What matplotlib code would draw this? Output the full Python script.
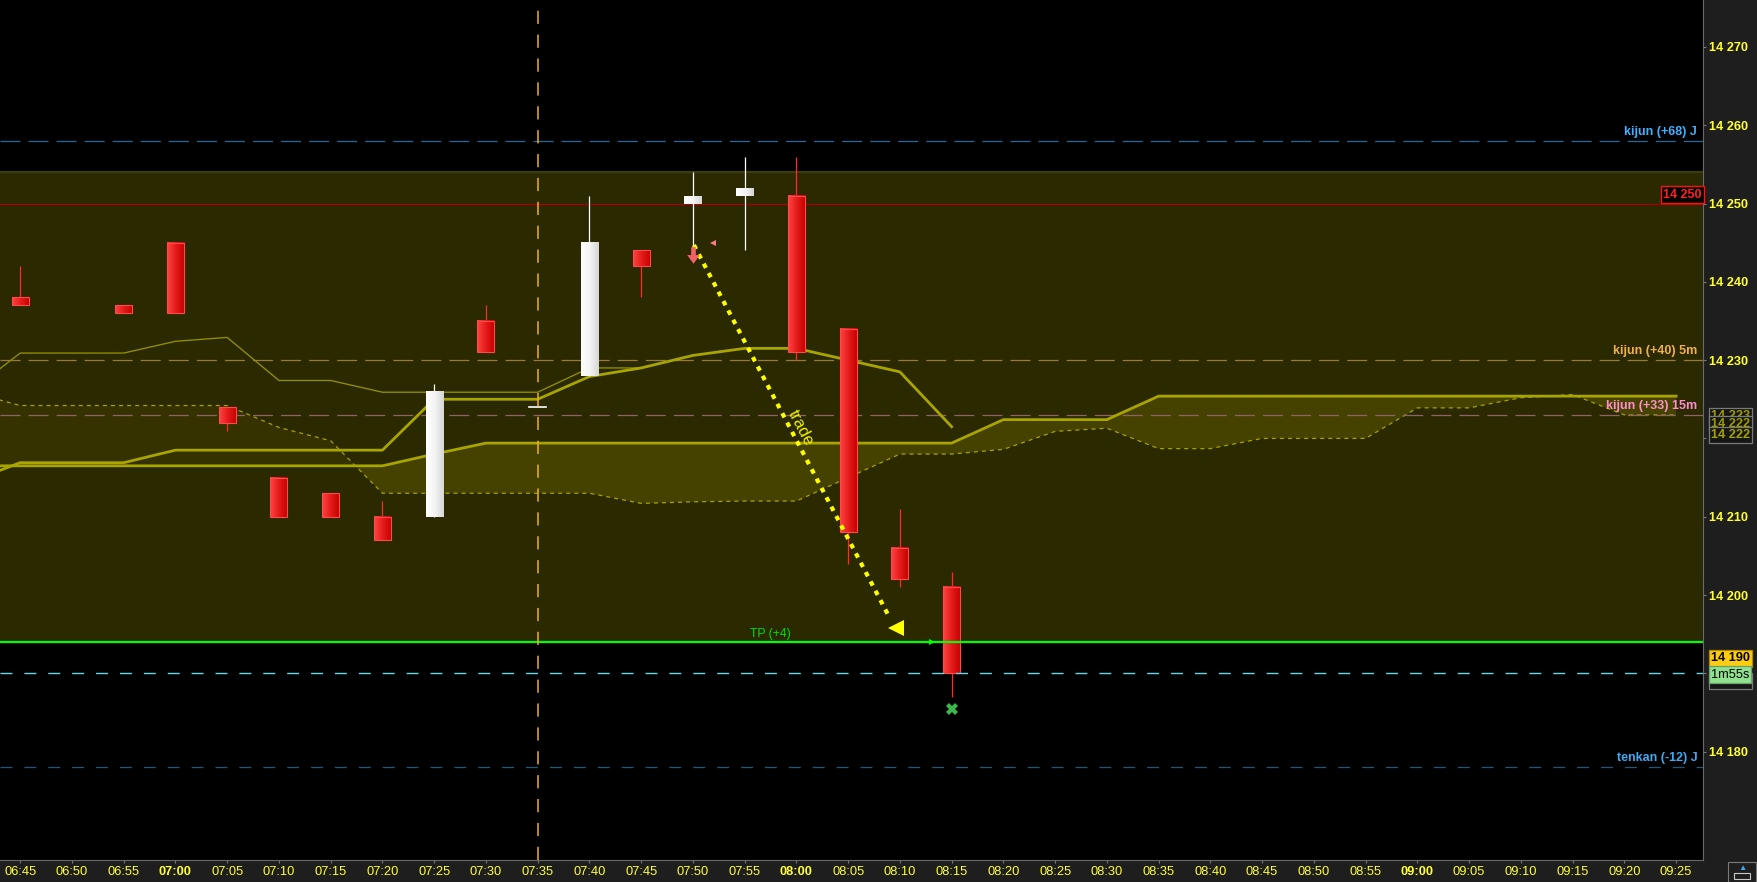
import matplotlib
matplotlib.use("Agg")
import matplotlib.pyplot as plt
import numpy as np
from matplotlib.colors import LinearSegmentedColormap
from matplotlib.patches import Rectangle
from matplotlib.transforms import blended_transform_factory
from matplotlib.path import Path

plt.rcParams['font.family'] = ['Liberation Sans', 'DejaVu Sans']
plt.rcParams['lines.scale_dashes'] = False


def tmin(s):
    h, m = s.split(':')
    return int(h) * 60 + int(m) - (6 * 60 + 45)


# ---------------- data ----------------
candle_times = ["06:45", "06:55", "07:00", "07:05", "07:10", "07:15", "07:20", "07:25",
                "07:30", "07:35", "07:40", "07:45", "07:50", "07:55", "08:00", "08:05",
                "08:10", "08:15"]
opens = [14238, 14237, 14245, 14224, 14215, 14213, 14210, 14210, 14235, 14224, 14228,
         14244, 14250, 14251, 14251, 14234, 14206, 14201]
highs = [14242, 14237, 14245, 14224, 14215, 14213, 14212, 14227, 14237, 14224, 14251,
         14244, 14254, 14256, 14256, 14234, 14211, 14203]
lows = [14237, 14236, 14236, 14221, 14210, 14210, 14207, 14210, 14231, 14224, 14228,
        14238, 14244.5, 14244, 14230, 14204, 14201, 14187]
closes = [14237, 14236, 14236, 14222, 14210, 14210, 14207, 14226, 14231, 14224, 14245,
          14242, 14251, 14252, 14231, 14208, 14202, 14190]

a_times = ["06:40", "06:45", "06:50", "06:55", "07:00", "07:05", "07:10", "07:15", "07:20",
           "07:25", "07:30", "07:35", "07:40", "07:45", "07:50", "07:55", "08:00", "08:05",
           "08:10", "08:15"]
a_vals = [14214.4, 14216.9, 14216.9, 14216.9, 14218.5, 14218.5, 14218.5, 14218.5, 14218.5,
          14225.0, 14225.0, 14225.0, 14227.9, 14229.0, 14230.6, 14231.5, 14231.5, 14230.0,
          14228.5, 14221.5]

c_times = ["06:40", "06:45", "06:50", "06:55", "07:00", "07:05", "07:10", "07:15", "07:20",
           "07:25", "07:30", "07:35", "07:40", "07:45"]
c_vals = [14225.8, 14230.9, 14230.9, 14230.9, 14232.4, 14232.9, 14227.4, 14227.4, 14225.9,
          14225.9, 14225.9, 14225.9, 14229.0, 14229.0]

cloud_times = ["06:40", "06:45", "06:50", "06:55", "07:00", "07:05", "07:10", "07:15",
               "07:20", "07:25", "07:30", "07:35", "07:40", "07:45", "07:50", "07:55",
               "08:00", "08:05", "08:10", "08:15", "08:20", "08:25", "08:30", "08:35",
               "08:40", "08:45", "08:50", "08:55", "09:00", "09:05", "09:10", "09:15",
               "09:20", "09:25"]
b_vals = [14216.5, 14216.5, 14216.5, 14216.5, 14216.5, 14216.5, 14216.5, 14216.5, 14216.5,
          14218.0, 14219.4, 14219.4, 14219.4, 14219.4, 14219.4, 14219.4, 14219.4, 14219.4,
          14219.4, 14219.4, 14222.4, 14222.4, 14222.4, 14225.4, 14225.4, 14225.4, 14225.4,
          14225.4, 14225.4, 14225.4, 14225.4, 14225.4, 14225.4, 14225.4]
d_vals = [14226.0, 14224.2, 14224.2, 14224.2, 14224.2, 14224.2, 14221.4, 14219.7, 14213.0,
          14213.0, 14213.0, 14213.0, 14213.0, 14211.7, 14211.9, 14212.0, 14212.0, 14215.0,
          14218.0, 14218.0, 14218.6, 14220.9, 14221.3, 14218.7, 14218.7, 14220.0, 14220.0,
          14220.0, 14223.9, 14223.9, 14225.2, 14225.6, 14223.0, 14223.0]

level_names = ["kijun (+68) J", "kijun (+40) 5m", "kijun (+33) 15m", "tenkan (-12) J"]
level_values = [14258, 14230, 14223, 14178]
level_line_colors = ["#1f6a9c", "#9a7a3a", "#8e6268", "#1e5878"]
level_text_colors = ["#3fb0ff", "#f0b050", "#ff8ccc", "#3fa8f0"]
level_dashes = [(14.4, 5.8), (14.4, 5.8), (14.4, 5.8), (8.6, 8.6)]

red_level = 14250
zone_top = 14254.06
tp_level = 14194
tp_label = "TP (+4)"
tp_label_time = 72.45
current_price = 14190
entry_time = "07:35"

trade_x = [65.1, 84.05]
trade_y = [14244.7, 14197.0]
trade_head = (84.6, 14195.8)
trade_text_pos = (75.4, 14221.4)

xtick_labels = ["06:45", "06:50", "06:55", "07:00", "07:05", "07:10", "07:15", "07:20",
                "07:25", "07:30", "07:35", "07:40", "07:45", "07:50", "07:55", "08:00",
                "08:05", "08:10", "08:15", "08:20", "08:25", "08:30", "08:35", "08:40",
                "08:45", "08:50", "08:55", "09:00", "09:05", "09:10", "09:15", "09:20",
                "09:25"]
ytick_vals = [14180, 14190, 14200, 14210, 14220, 14230, 14240, 14250, 14260, 14270]
ytick_labels = ["14 180", "", "14 200", "14 210", "", "14 230", "14 240", "14 250",
                "14 260", "14 270"]

# ---------------- figure ----------------
W, H = 1757, 882
fig = plt.figure(figsize=(W / 100, H / 100), dpi=100)
fig.patch.set_facecolor('#1e1e1e')
ax = fig.add_axes([0, 22 / H, 1703 / W, 860 / H])
ax.set_facecolor('black')
XL = (-1.95, 162.6)
YL = (14166.16, 14275.99)

# trade zone
ax.axhspan(tp_level, zone_top, color='#2a2900', zorder=0.5, lw=0)
ax.axhline(zone_top, color='#3d3c0e', lw=1.6, zorder=0.6)

# cloud
cx = np.array([tmin(t) for t in cloud_times], dtype=float)
bv = np.array(b_vals)
dv = np.array(d_vals)
ax.fill_between(cx, bv, dv, where=bv >= dv, interpolate=True, color='#454200', lw=0, zorder=1)
ax.fill_between(cx, bv, dv, where=bv < dv, interpolate=True, color='#353200', lw=0, zorder=1)
ax.plot(cx, dv, color='#a6a200', lw=0.9, dashes=(2.9, 2.9), zorder=2)
ax.plot(cx, bv, color='#a8a400', lw=2.0, zorder=3)
ax.plot([tmin(t) for t in c_times], c_vals, color='#929000', lw=0.95, zorder=3)
ax.plot([tmin(t) for t in a_times], a_vals, color='#a8a400', lw=2.0, zorder=3)

# horizontal levels
ax.axhline(red_level, color='#b00000', lw=0.9, zorder=2)
for v, lc, ds in zip(level_values, level_line_colors, level_dashes):
    ax.axhline(v, color=lc, lw=0.9, dashes=ds, zorder=2)
ax.axhline(tp_level, color='#00ff00', lw=1.6, zorder=6)
ax.axhline(current_price, color='#5fd8e8', lw=1.0, dashes=(8.6, 8.6), zorder=6)
ax.axvline(tmin(entry_time), color='#f0b020', lw=1.1, dashes=(9.5, 7.7), zorder=6)

lab_tr = blended_transform_factory(ax.transAxes, ax.transData)
for name, v, tc in zip(level_names, level_values, level_text_colors):
    ax.annotate(name, xy=(0.9966, v), xycoords=lab_tr, xytext=(0, 2.2),
                textcoords='offset points', ha='right', va='bottom', color=tc,
                fontsize=9, fontweight='bold', zorder=8)
ax.annotate(tp_label, xy=(tp_label_time, tp_level), xytext=(0, 1.5),
            textcoords='offset points', ha='center', va='bottom', color='#00e000',
            fontsize=8.8, zorder=8)
ax.text(0.9992, red_level + 1.1, "14 250", transform=lab_tr, ha='right', va='center',
        color='#ff2020', fontsize=9, fontweight='bold', zorder=9,
        bbox=dict(boxstyle='square,pad=0.2', fc='black', ec='#ff1010', lw=1))

# candles
bw = 1.65
red_cmap = LinearSegmentedColormap.from_list('r', ['#ff4444', '#e41a1a', '#c40000'])
wht_cmap = LinearSegmentedColormap.from_list('w', ['#ffffff', '#f4f4f4', '#d6d6d6'])
grad = np.linspace(0, 1, 64).reshape(1, -1)
for t, o, h, l, c in zip(candle_times, opens, highs, lows, closes):
    x = tmin(t)
    up = c >= o
    col = '#ffffff' if up else '#ff2a2a'
    if h > max(o, c) or l < min(o, c):
        ax.plot([x, x], [l, h], color=col, lw=0.9, zorder=4, solid_capstyle='butt')
    if o == c:
        ax.plot([x - bw / 2, x + bw / 2], [o, c], color='#ffffff', lw=1.2, zorder=5)
        continue
    lo_, hi_ = min(o, c), max(o, c)
    ax.imshow(grad, extent=[x - bw / 2, x + bw / 2, lo_, hi_], aspect='auto',
              cmap=wht_cmap if up else red_cmap, interpolation='bilinear', zorder=5)
    if not up:
        ax.add_patch(Rectangle((x - bw / 2, lo_), bw, hi_ - lo_, fill=False,
                               ec='#ff4a4a', lw=0.8, zorder=5.5))

ax.set_xlim(*XL)
ax.set_ylim(*YL)

# trade arrow
ax.plot(trade_x, trade_y, color='#ffff00', lw=3.0, dashes=(3.4, 4.2), zorder=7,
        solid_capstyle='butt', dash_capstyle='butt')
ax.plot([trade_head[0]], [trade_head[1]], marker='<', color='#ffff00', markersize=12,
        markeredgewidth=0, zorder=7)
fig.canvas.draw()
p0 = ax.transData.transform((trade_x[0], trade_y[0]))
p1 = ax.transData.transform((trade_x[1], trade_y[1]))
ang = np.degrees(np.arctan2(p1[1] - p0[1], p1[0] - p0[0]))
ax.text(trade_text_pos[0], trade_text_pos[1], "trade", rotation=ang, rotation_mode='anchor',
        ha='center', va='center', color='#f0f000', fontsize=12, zorder=7)

# markers
arrow_path = Path([(-0.28, 1.0), (0.28, 1.0), (0.28, 0.05), (0.75, 0.05), (0.0, -1.0),
                   (-0.75, 0.05), (-0.28, 0.05), (-0.28, 1.0)], closed=True)
ax.plot([65.0], [14243.4], marker=arrow_path, color='#f2606a', markersize=12,
        markeredgewidth=0, zorder=8)
ax.plot([66.97], [14244.9], marker='<', color='#ff7a86', markersize=5,
        markeredgewidth=0, zorder=8)
ax.plot([88.1], [tp_level], marker='>', color='#00ff00', markersize=5,
        markeredgewidth=0, zorder=8)
ax.plot([90.0], [14185.4], marker='X', color='#3cb84a', markersize=9,
        markeredgewidth=0, zorder=8)

# axes styling
for s in ['top', 'left']:
    ax.spines[s].set_visible(False)
ax.spines['right'].set_color('#6a6a6a')
ax.spines['bottom'].set_color('#6a6a6a')
ax.yaxis.tick_right()
ax.set_yticks(ytick_vals)
ax.set_yticklabels(ytick_labels)
ax.tick_params(axis='y', colors='#7a7a7a', length=2.4, width=0.8, pad=2.2,
               labelcolor='#ffff33', labelsize=9.2)
for lbl in ax.get_yticklabels():
    lbl.set_fontweight('bold')
ax.set_xticks([tmin(t) for t in xtick_labels])
ax.set_xticklabels(xtick_labels)
ax.tick_params(axis='x', colors='#7a7a7a', length=2.4, width=0.8, pad=2.0,
               labelcolor='#ffff33', labelsize=9.3)
for lbl in ax.get_xticklabels():
    if lbl.get_text().endswith(':00'):
        lbl.set_fontweight('bold')


# right-axis price boxes
def pbox(y, s, fc, tc, ec, z, weight='bold'):
    ax.text(1.0046, y, s, transform=lab_tr, ha='left', va='center', color=tc,
            fontsize=9.2, fontweight=weight, zorder=z, clip_on=False,
            bbox=dict(boxstyle='square,pad=0.17', fc=fc, ec=ec, lw=0.9))


pbox(14222.8, "14 223", '#161616', '#9c9c00', '#7a7a7a', 20)
pbox(14221.8, "14 222", '#161616', '#9c9c00', '#7a7a7a', 21)
pbox(14220.4, "14 222", '#161616', '#a4a400', '#7a7a7a', 22)
pbox(14191.9, "14 190", '#ffcc10', '#000000', '#b08a00', 23)
pbox(14189.0, "14 190", '#161616', '#9c9c00', '#7a7a7a', 24)
pbox(14189.85, "1m55s", '#8fe08f', '#000000', '#6aa06a', 25, weight='normal')

# bottom-right icon
fig.patches.append(Rectangle((1728 / W, 0.5 / H), 28 / W, 20 / H, transform=fig.transFigure,
                             fill=False, ec='#7a7a7a', lw=0.8))
fig.patches.append(Rectangle((1734 / W, 3 / H), 16 / W, 6 / H, transform=fig.transFigure,
                             fill=False, ec='#c8c8c8', lw=0.8))
fig.text(1742 / W, 14 / H, '\u25b2', color='#3aa8f0', fontsize=6, ha='center', va='center')

fig.savefig('out.png', dpi=100, facecolor=fig.get_facecolor())
